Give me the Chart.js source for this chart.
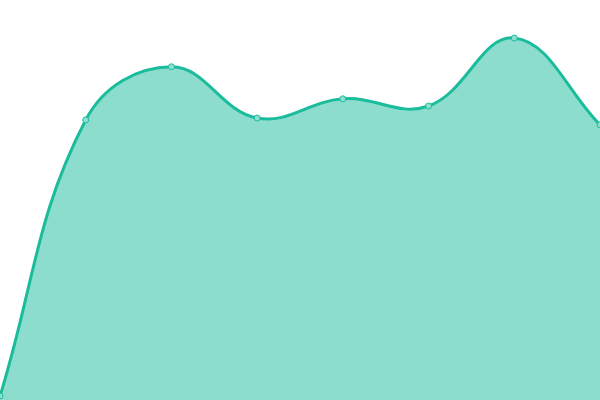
<!DOCTYPE html>
<html>
<head>
<meta charset="utf-8">
<script src="https://cdn.jsdelivr.net/npm/chart.js@4.4.1/dist/chart.umd.min.js"></script>
<style>
  html, body { margin: 0; padding: 0; background: #fff; }
  #wrap { width: 600px; height: 400px; }
</style>
</head>
<body>
<div id="wrap"><canvas id="chart"></canvas></div>
<script>
const labels = ['1', '2', '3', '4', '5', '6', '7', '8'];
const values = [1, 70, 83.3, 70.5, 75.3, 73.5, 90.5, 68.8];
const yMin = 0;
const yMax = 100;

new Chart(document.getElementById('chart'), {
    type: 'line',
    data: {
        labels: labels,
        datasets: [{
            data: values,
            borderColor: '#1abc9c',
            backgroundColor: 'rgba(26, 188, 156, 0.5)',
            borderWidth: 3,
            fill: 'origin',
            tension: 0.4,
            pointRadius: 3,
            pointBackgroundColor: '#8de0cf',
            pointBorderColor: '#1abc9c',
            pointBorderWidth: 1
        }]
    },
    options: {
        responsive: true,
        maintainAspectRatio: false,
        animation: false,
        layout: { padding: 0, autoPadding: false },
        scales: {
            x: { display: false, offset: false },
            y: { display: false, min: yMin, max: yMax }
        },
        plugins: {
            legend: { display: false },
            tooltip: { enabled: false }
        }
    }
});
</script>
</body>
</html>
